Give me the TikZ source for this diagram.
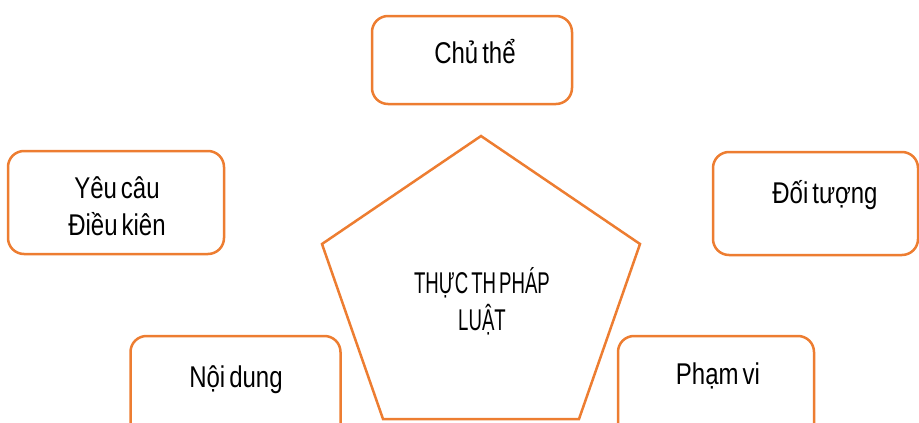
\documentclass[tikz,border=0pt]{standalone}
\usepackage{fontspec}
\setmainfont{Liberation Sans}[FakeStretch=0.80, WordSpace=0.6]
\newfontfamily\capsfont{Liberation Sans}[FakeStretch=0.62, WordSpace=0.6]
\definecolor{frameorange}{RGB}{237,125,49}
\begin{document}
\begin{tikzpicture}[x=1pt,y=-1pt,
  box/.style={draw=frameorange, line width=2.5pt, rounded corners=16pt, fill=white,
    inner sep=0pt},
  lbl/.style={anchor=base, inner sep=0pt, align=center,
    font=\fontsize{30}{37}\selectfont},
  midlbl/.style={lbl, font=\fontsize{30}{37}\selectfont\capsfont},
  edge/.style={draw=frameorange, line width=2.5pt, line join=miter}]
  \useasboundingbox (0,0) rectangle (919,423);
  \clip (0,0) rectangle (919,423);

  % surrounding boxes
  \node[box, minimum width=200pt, minimum height=88pt]  (chu)  at (472,60)    {};
  \node[box, minimum width=216pt, minimum height=103pt] (yeu)  at (116,202.5) {};
  \node[box, minimum width=205pt, minimum height=103pt] (doi)  at (815.5,203.5) {};
  \node[box, minimum width=210pt, minimum height=110pt] (noi)  at (235.5,391) {};
  \node[box, minimum width=196pt, minimum height=110pt] (pham) at (716,391)   {};

  % labels (base anchor sits on the last line)
  \node[lbl] (chut)  at (475,63)  {Chủ thể};
  \node[lbl] (yeut)  at (117,235) {Yêu câu\\Điều kiên};
  \node[lbl] (doit)  at (825,203) {Đối tượng};
  \node[lbl] (noit)  at (236,387) {Nội dung};
  \node[lbl] (phamt) at (718,384) {Phạm vi};

  % central pentagon
  \coordinate (ptop) at (481,136);
  \coordinate (pleft) at (322,244);
  \coordinate (pright) at (640,244);
  \coordinate (pbl) at (383,419);
  \coordinate (pbr) at (579,419);
  \draw[edge] (ptop) -- (pright) -- (pbr) -- (pbl) -- (pleft) -- cycle;
  \node[midlbl] (core) at (482,330) {THỰC TH PHÁP\\LUẬT};
\end{tikzpicture}
\end{document}
